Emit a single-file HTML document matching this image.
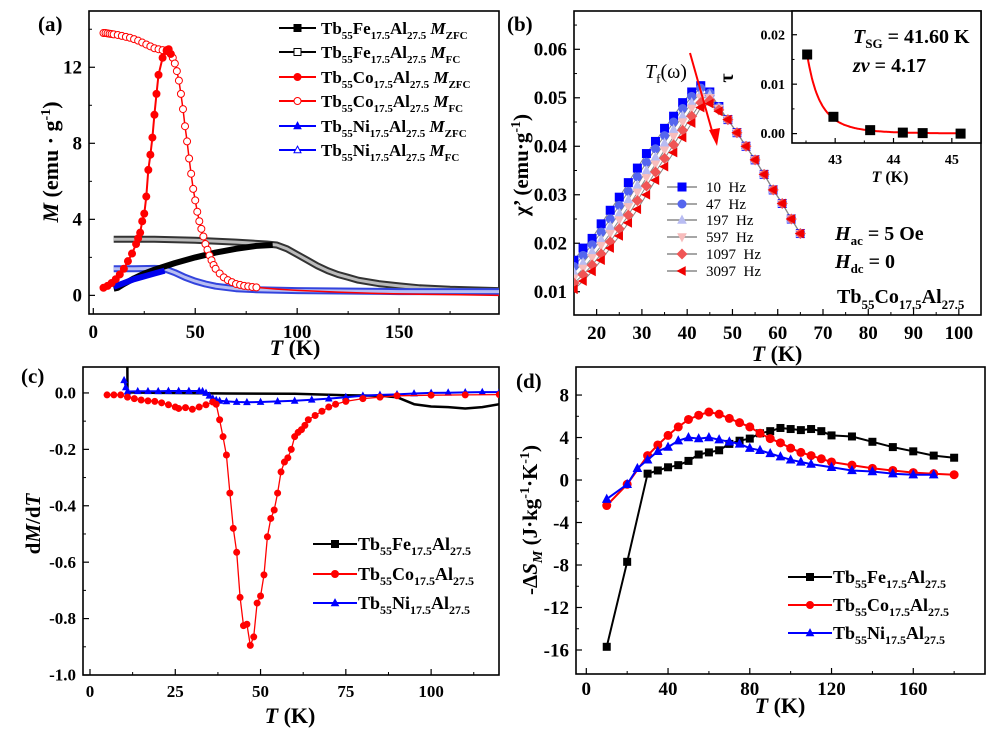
<!DOCTYPE html>
<html><head><meta charset="utf-8"><style>
html,body{margin:0;padding:0;background:#fff;}
svg{display:block;font-family:"Liberation Serif",serif;font-weight:bold;}
</style></head><body>
<svg id="fig" width="1000" height="737" viewBox="0 0 1000 737" xmlns="http://www.w3.org/2000/svg">
<rect width="1000" height="737" fill="#fff"/>
<defs>
<clipPath id="ca"><rect x="89" y="11" width="410" height="303"/></clipPath>
<clipPath id="cb"><rect x="574" y="11" width="407" height="304"/></clipPath>
<clipPath id="cbi"><rect x="792" y="11" width="189" height="132"/></clipPath>
<clipPath id="cc"><rect x="83" y="367" width="416" height="308"/></clipPath>
<clipPath id="cd"><rect x="576" y="367" width="409" height="307"/></clipPath>
</defs>
<g id="pa"></g>
<g id="pb"></g>
<g id="pc"></g>
<g id="pd"></g>
<g id="pbi"></g>

<!-- panel labels -->
<text x="38" y="31" font-size="21">(a)</text>
<text x="507" y="31" font-size="21">(b)</text>
<text x="21" y="383" font-size="21">(c)</text>
<text x="516" y="388" font-size="21">(d)</text>

<!-- axis titles -->
<text transform="translate(58,162) rotate(-90)" text-anchor="middle" font-size="22"><tspan font-style="italic">M</tspan> (emu · g<tspan dy="-8" font-size="14">-1</tspan><tspan dy="8">)</tspan></text>
<text x="295" y="355" text-anchor="middle" font-size="22"><tspan font-style="italic">T</tspan> (K)</text>
<text transform="translate(528,165) rotate(-90)" text-anchor="middle" font-size="21">χ’ (emu·g<tspan dy="-8" font-size="14">-1</tspan><tspan dy="8">)</tspan></text>
<text x="777" y="361" text-anchor="middle" font-size="22"><tspan font-style="italic">T</tspan> (K)</text>
<text transform="translate(40,524) rotate(-90)" text-anchor="middle" font-size="21">d<tspan font-style="italic">M</tspan>/d<tspan font-style="italic">T</tspan></text>
<text x="290" y="723" text-anchor="middle" font-size="22"><tspan font-style="italic">T</tspan> (K)</text>
<text transform="translate(537,520) rotate(-90)" text-anchor="middle" font-size="21">-Δ<tspan font-style="italic">S</tspan><tspan dy="5" font-size="14" font-style="italic">M</tspan><tspan dy="-5"> (J·kg</tspan><tspan dy="-8" font-size="14">-1</tspan><tspan dy="8">·K</tspan><tspan dy="-8" font-size="14">-1</tspan><tspan dy="8">)</tspan></text>
<text x="780" y="713" text-anchor="middle" font-size="22"><tspan font-style="italic">T</tspan> (K)</text>

<!-- panel b annotations -->
<text x="645" y="78" font-size="20" font-weight="normal"><tspan font-style="italic">T</tspan><tspan dy="5" font-size="13">f</tspan><tspan dy="-5">(ω)</tspan></text>
<text x="835" y="240" font-size="20"><tspan font-style="italic">H</tspan><tspan dy="5" font-size="13">ac</tspan><tspan dy="-5"> = 5 Oe</tspan></text>
<text x="835" y="268" font-size="20"><tspan font-style="italic">H</tspan><tspan dy="5" font-size="13">dc</tspan><tspan dy="-5"> = 0</tspan></text>
<text x="837" y="303" font-size="20">Tb<tspan dy="6" font-size="13">55</tspan><tspan dy="-6">Co</tspan><tspan dy="6" font-size="13">17.5</tspan><tspan dy="-6">Al</tspan><tspan dy="6" font-size="13">27.5</tspan></text>
<line x1="690" y1="53" x2="714" y2="138" stroke="#f00" stroke-width="2"/>
<polygon points="709,130 717,146 720,128" fill="#f00"/>

<!-- inset text -->
<text transform="translate(733,78) rotate(-90)" text-anchor="middle" font-size="20">τ</text>
<text x="890" y="182" text-anchor="middle" font-size="16"><tspan font-style="italic">T</tspan> (K)</text>
<text x="853" y="43" font-size="20"><tspan font-style="italic">T</tspan><tspan dy="5" font-size="13">SG</tspan><tspan dy="-5"> = 41.60 K</tspan></text>
<text x="853" y="72" font-size="20"><tspan font-style="italic">zν</tspan> = 4.17</text>

<script>
// ---------- data: panel (a) ----------
const aFeZfcT=[10,12,15,20,25,30,40,50,60,70,80,88];
const aFeZfcM=[0.35,0.4,0.6,0.9,1.15,1.35,1.7,2.0,2.25,2.45,2.6,2.65];
const aFeFcT=[10,30,50,70,85,90,95,100,105,110,115,120,125,130,140,150,160,175,199];
const aFeFcM=[2.95,2.95,2.9,2.8,2.7,2.65,2.45,2.15,1.85,1.55,1.3,1.1,0.95,0.8,0.62,0.5,0.4,0.32,0.25];
const aCoZfcT=[5,7,9,11,13,15,17,19,21,22,23,24,25,26,27,28,29,30,31,32,34,36,37,38];
const aCoZfcM=[0.4,0.5,0.65,0.85,1.1,1.4,1.8,2.2,2.7,3.0,3.3,3.9,4.3,5.2,6.6,7.4,8.3,9.5,10.6,11.6,12.5,12.9,12.95,12.7];
const aCoFcT=[5,6,7,8,9,10,12,14,16,18,20,22,24,26,28,30,32,34,36,38,39,40,41,42,43,44,45,46,47,48,49,50,51,52,53,54,55,56,57,58,59,60,62,64,66,68,70,72,74,76,78,80,90,100,120,140,160,180,199];
const aCoFcM=[13.8,13.8,13.78,13.76,13.75,13.73,13.7,13.65,13.6,13.55,13.48,13.4,13.3,13.2,13.1,13.0,12.95,12.9,12.85,12.7,12.5,12.2,11.8,11.3,10.6,9.8,8.9,8.1,7.2,6.4,5.6,5.0,4.4,3.9,3.5,3.1,2.7,2.4,2.1,1.85,1.6,1.4,1.15,0.95,0.8,0.7,0.6,0.55,0.5,0.47,0.44,0.42,0.33,0.26,0.17,0.1,0.06,0.03,0.0];
const aNiZfcT=[10,15,20,25,30,35];
const aNiZfcM=[0.45,0.65,0.85,1.0,1.15,1.3];
const aNiFcT=[10,20,30,35,40,45,50,55,60,70,80,100,150,199];
const aNiFcM=[1.4,1.4,1.42,1.4,1.2,0.95,0.75,0.6,0.48,0.35,0.3,0.25,0.2,0.2];

// ---------- data: panel (b) ----------
const bT=[15,17,19,21,23,25,27,29,31,33,35,37,39,41,43,45,47,49,51,53,55,57,59,61,63,65];
const bTail=[0.0455,0.0428,0.0400,0.0372,0.0342,0.0310,0.0282,0.0250,0.0220];
const b10=[0.0165,0.0190,0.0210,0.0240,0.0268,0.0295,0.0325,0.0355,0.0385,0.0410,0.0437,0.0462,0.0490,0.0512,0.0525,0.0512,0.0482].concat(bTail);
const b47=[0.0152,0.0175,0.0197,0.0223,0.0250,0.0278,0.0307,0.0337,0.0367,0.0395,0.0422,0.0450,0.0478,0.0503,0.0520,0.0510,0.0481].concat(bTail);
const b197=[0.0140,0.0160,0.0183,0.0208,0.0235,0.0262,0.0290,0.0320,0.0350,0.0378,0.0407,0.0435,0.0463,0.0490,0.0510,0.0506,0.0480].concat(bTail);
const b597=[0.0128,0.0148,0.0170,0.0195,0.0220,0.0248,0.0275,0.0305,0.0335,0.0363,0.0392,0.0420,0.0450,0.0478,0.0500,0.0500,0.0478].concat(bTail);
const b1097=[0.0118,0.0135,0.0155,0.0178,0.0203,0.0230,0.0258,0.0288,0.0318,0.0347,0.0375,0.0403,0.0433,0.0462,0.0490,0.0495,0.0475].concat(bTail);
const b3097=[0.0105,0.0122,0.0142,0.0165,0.0190,0.0215,0.0242,0.0270,0.0300,0.0330,0.0358,0.0387,0.0418,0.0448,0.0480,0.0488,0.0472].concat(bTail);
const bFreqLabels=['10  Hz','47  Hz','197  Hz','597  Hz','1097  Hz','3097  Hz'];
const inT=[42.52,42.97,43.6,44.16,44.5,45.15];
const inTau=[0.016,0.0034,0.0007,0.0002,0.0001,0.0];
const inTsg=41.60, inZv=4.17;

// ---------- data: panel (c) ----------
const cFeT=[10.8,11,20,40,60,75,85,90,95,100,105,110,115,120];
const cFeV=[0.5,0.002,0.0,-0.002,-0.003,-0.008,-0.01,-0.015,-0.04,-0.048,-0.05,-0.055,-0.05,-0.04];
const cCoT=[5,7,9,11,13,15,17,19,21,23,25,26,28,30,32,34,36,37,38,39,40,41,42,43,44,45,46,47,48,49,50,51,52,53,54,55,56,57,58,59,60,61,62,63,64,66,68,70,72,75,80,85,90,100,110,120];
const cCoV=[-0.007,-0.007,-0.007,-0.015,-0.02,-0.025,-0.028,-0.03,-0.035,-0.042,-0.05,-0.055,-0.052,-0.058,-0.05,-0.042,-0.032,-0.04,-0.095,-0.155,-0.22,-0.355,-0.48,-0.565,-0.725,-0.825,-0.82,-0.895,-0.865,-0.745,-0.72,-0.645,-0.51,-0.445,-0.415,-0.355,-0.28,-0.245,-0.23,-0.2,-0.155,-0.14,-0.13,-0.115,-0.095,-0.08,-0.065,-0.05,-0.04,-0.03,-0.02,-0.015,-0.01,-0.008,-0.007,-0.006];
const cNiT=[10,10.5,11,14,17,20,23,26,29,32,33,34,35,36,37,38,40,43,46,50,55,60,65,70,75,80,85,90,95,100,105,110,115,120];
const cNiV=[0.045,0.02,0.005,0.006,0.006,0.006,0.007,0.007,0.007,0.007,0.006,0.0,-0.01,-0.02,-0.025,-0.028,-0.03,-0.032,-0.033,-0.032,-0.03,-0.028,-0.024,-0.02,-0.015,-0.01,-0.007,-0.005,-0.002,0.0,0.001,0.002,0.003,0.003];

// ---------- data: panel (d) ----------
const dFeT=[10,20,30,35,40,45,50,55,60,65,70,75,80,85,90,95,100,105,110,115,120,130,140,150,160,170,180];
const dFeV=[-15.7,-7.7,0.6,0.9,1.2,1.4,1.8,2.4,2.6,2.8,3.4,3.7,3.9,4.4,4.6,4.9,4.8,4.7,4.8,4.6,4.2,4.1,3.6,3.1,2.7,2.3,2.1];
const dCoT=[10,20,30,35,40,45,50,55,60,65,70,75,80,85,90,95,100,105,110,115,120,130,140,150,160,170,180];
const dCoV=[-2.4,-0.4,2.3,3.3,4.2,5.0,5.7,6.1,6.4,6.2,5.8,5.4,5.0,4.4,3.9,3.5,3.0,2.6,2.3,2.0,1.7,1.4,1.1,0.9,0.7,0.6,0.5];
const dNiT=[10,20,25,30,35,40,45,50,55,60,65,70,75,80,85,90,95,100,105,110,120,130,140,150,160,170];
const dNiV=[-1.8,-0.4,1.1,1.9,2.7,3.1,3.7,4.0,3.9,4.0,3.8,3.6,3.4,3.0,2.8,2.5,2.2,1.9,1.7,1.5,1.2,0.9,0.8,0.6,0.5,0.5];

// ---------- helpers ----------
const NS='http://www.w3.org/2000/svg';
function el(tag,parent,name,inter){
  const e=document.createElementNS(NS,tag);
  
  
  parent.appendChild(e);return e;
}
function set(e,o){for(const k in o)e.setAttribute(k,o[k]);return e;}
function scale(d0,d1,r0,r1){return v=>r0+(v-d0)/(d1-d0)*(r1-r0);}
function span(t,txt,dy,fs,it){
  const s=document.createElementNS(NS,'tspan');
  if(dy)s.setAttribute('dy',dy);
  if(fs)s.setAttribute('font-size',fs);
  if(it)s.setAttribute('font-style','italic');
  s.textContent=txt;t.appendChild(s);
}

function axes(g,c,id){
  const sx=scale(c.xmin,c.xmax,c.x0,c.x1), sy=scale(c.ymin,c.ymax,c.y1,c.y0);
  const box=el('rect',g,id+'-plot-frame',false);
  set(box,{x:c.x0,y:c.y0,width:c.x1-c.x0,height:c.y1-c.y0,fill:'#fff',stroke:'#000','stroke-width':1.6});
  const ax=el('g',g,id+'-x-axis',false);
  c.xmaj.forEach(v=>{
    const t=el('line',ax,'x-tick',false);
    set(t,{x1:sx(v),x2:sx(v),y1:c.y1,y2:c.y1-c.tl,stroke:'#000','stroke-width':1.2});
    const l=el('text',ax,'x-tick-label',false);
    set(l,{x:sx(v),y:c.xly,'text-anchor':'middle','font-size':c.fs});
    l.textContent=c.xfmt?c.xfmt(v):v;
  });
  (c.xmin_||[]).forEach(v=>{
    const t=el('line',ax,'x-minor-tick',false);
    set(t,{x1:sx(v),x2:sx(v),y1:c.y1,y2:c.y1-c.tl/2,stroke:'#000','stroke-width':1});
  });
  const ay=el('g',g,id+'-y-axis',false);
  c.ymaj.forEach(v=>{
    const t=el('line',ay,'y-tick',false);
    set(t,{x1:c.x0,x2:c.x0+c.tl,y1:sy(v),y2:sy(v),stroke:'#000','stroke-width':1.2});
    const l=el('text',ay,'y-tick-label',false);
    set(l,{x:c.ylx,y:sy(v)+c.fs*0.33,'text-anchor':'end','font-size':c.fs});
    l.textContent=c.yfmt?c.yfmt(v):v;
  });
  (c.ymin_||[]).forEach(v=>{
    const t=el('line',ay,'y-minor-tick',false);
    set(t,{x1:c.x0,x2:c.x0+c.tl/2,y1:sy(v),y2:sy(v),stroke:'#000','stroke-width':1});
  });
  return [sx,sy];
}
function line(g,sx,sy,xs,ys,color,w,name,clip){
  const p=el('polyline',g,name,false);
  set(p,{points:xs.map((x,i)=>sx(x).toFixed(1)+','+sy(ys[i]).toFixed(1)).join(' '),fill:'none',stroke:color,'stroke-width':w,'stroke-linejoin':'round'});
  if(clip)p.setAttribute('clip-path','url(#'+clip+')');
  return p;
}
function marker(g,type,x,y,s,fill,stroke,name){
  let m;
  if(type==='circle'){m=el('circle',g,name,false);set(m,{cx:x,cy:y,r:s/2});}
  else if(type==='square'){m=el('rect',g,name,false);set(m,{x:x-s/2,y:y-s/2,width:s,height:s});}
  else{
    let pts;const h=s/2;
    if(type==='up')pts=[[x,y-h*1.1],[x+h,y+h*0.8],[x-h,y+h*0.8]];
    else if(type==='down')pts=[[x,y+h*1.1],[x+h,y-h*0.8],[x-h,y-h*0.8]];
    else if(type==='diamond')pts=[[x,y-h*1.2],[x+h*1.2,y],[x,y+h*1.2],[x-h*1.2,y]];
    else pts=[[x-h*1.1,y],[x+h*0.8,y-h],[x+h*0.8,y+h]];
    m=el('polygon',g,name,false);set(m,{points:pts.map(p=>p.join(',')).join(' ')});
  }
  set(m,{fill:fill,stroke:stroke,'stroke-width':1});
  return m;
}
function markers(g,sx,sy,xs,ys,type,s,fill,stroke,name,clip){
  const mg=el('g',g,name+'-markers',false);
  if(clip)mg.setAttribute('clip-path','url(#'+clip+')');
  xs.forEach((x,i)=>marker(mg,type,sx(x),sy(ys[i]),s,fill,stroke,name+'-point'));
}
function formula(parent,x,y,fs,el2,extra,name){
  const t=el('text',parent,name,false);
  set(t,{x:x,y:y,'font-size':fs});
  const sub=Math.round(fs*0.65),d=Math.round(fs*0.3);
  span(t,'Tb');span(t,'55',d,sub);span(t,el2,-d);span(t,'17.5',d,sub);span(t,'Al',-d);span(t,'27.5',d,sub);
  if(extra){span(t,' M',-d,null,true);span(t,extra,d,sub);}
  return t;
}
function legendRow(g,x1,x2,y,color,type,fill,tx,fs,el2,extra,name){
  const row=el('g',g,name,false);
  const l=el('line',row,name+'-line',false);
  set(l,{x1:x1,x2:x2,y1:y,y2:y,stroke:color,'stroke-width':2});
  marker(row,type,(x1+x2)/2,y,7,fill,color,name+'-marker');
  formula(row,tx,y+6,fs,el2,extra,name+'-label');
}

// ---------- panel (a) ----------
(function(){
  const g=document.getElementById('pa');
  const [sx,sy]=axes(g,{x0:89,x1:499,y0:11,y1:314,xmin:-2.1,xmax:199,ymin:-0.98,ymax:14.96,
    xmaj:[0,50,100,150],xmin_:[25,75,125,175],ymaj:[0,4,8,12],ymin_:[2,6,10,14],tl:6,fs:19,xly:338,ylx:82},'a');
  line(g,sx,sy,aFeFcT,aFeFcM,'#333',7,'fe-fc-band','ca');
  line(g,sx,sy,aFeFcT,aFeFcM,'#bbb',3,'fe-fc-inner','ca');
  line(g,sx,sy,aNiFcT,aNiFcM,'#3344dd',7,'ni-fc-band','ca');
  line(g,sx,sy,aNiFcT,aNiFcM,'#b8bef2',3,'ni-fc-inner','ca');
  line(g,sx,sy,aFeZfcT,aFeZfcM,'#000',6,'fe-zfc-line','ca');
  line(g,sx,sy,aNiZfcT,aNiZfcM,'#0000ee',6,'ni-zfc-line','ca');
  line(g,sx,sy,aCoFcT,aCoFcM,'#f00',1.5,'co-fc-line','ca');
  const mT=aCoFcT.filter(t=>t<=80), mM=aCoFcM.slice(0,mT.length);
  markers(g,sx,sy,mT,mM,'circle',7,'#fff','#f00','co-fc','ca');
  line(g,sx,sy,aCoZfcT,aCoZfcM,'#f00',2,'co-zfc-line','ca');
  markers(g,sx,sy,aCoZfcT,aCoZfcM,'circle',7,'#f00','#f00','co-zfc','ca');
  const lg=el('g',g,'legend-a',false);
  const rows=[['#000','square','#000','Fe','ZFC'],['#000','square','#fff','Fe','FC'],['#f00','circle','#f00','Co','ZFC'],['#f00','circle','#fff','Co','FC'],['#00f','up','#00f','Ni','ZFC'],['#00f','up','#fff','Ni','FC']];
  const ry=[28,52,77,101,126,150];
  rows.forEach((r,i)=>legendRow(lg,279,316,ry[i],r[0],r[1],r[2],321,17,r[3],r[4],'legend-entry-'+r[3].toLowerCase()+'-'+r[4].toLowerCase()));
})();

// ---------- panel (b) ----------
(function(){
  const g=document.getElementById('pb');
  const f2=v=>v.toFixed(2);
  const [sx,sy]=axes(g,{x0:574,x1:981,y0:11,y1:315,xmin:15,xmax:104.9,ymin:0.0052,ymax:0.0679,
    xmaj:[20,30,40,50,60,70,80,90,100],xmin_:[25,35,45,55,65,75,85,95],ymaj:[0.01,0.02,0.03,0.04,0.05,0.06],ymin_:[0.015,0.025,0.035,0.045,0.055,0.065],tl:6,fs:19,xly:339,ylx:567,yfmt:f2},'b');
  const series=[[b10,'square','#0000ff'],[b47,'circle','#5566ee'],[b197,'up','#b8bcf2'],[b597,'down','#f7bcbc'],[b1097,'diamond','#f05555'],[b3097,'left','#f00000']];
  series.forEach((s,i)=>{
    line(g,sx,sy,bT,s[0],'#888',1,'chi-line-'+i,'cb');
  });
  series.forEach((s,i)=>{
    markers(g,sx,sy,bT,s[0],s[1],8,s[2],s[2],'chi-'+bFreqLabels[i].replace(/\s+/g,'').toLowerCase(),'cb');
  });
  const lg=el('g',g,'legend-b',false);
  const ry=[187,204,220,237,254,271];
  series.forEach((s,i)=>{
    const row=el('g',lg,'legend-entry-'+bFreqLabels[i].replace(/\s+/g,'').toLowerCase(),false);
    const l=el('line',row,'legend-line',false);
    set(l,{x1:667,x2:697,y1:ry[i],y2:ry[i],stroke:'#888','stroke-width':1.5});
    marker(row,s[1],682,ry[i],8,s[2],s[2],'legend-marker');
    const t=el('text',row,'legend-label',false);
    set(t,{x:706,y:ry[i]+5,'font-size':15,'font-weight':'normal'});
    t.textContent=bFreqLabels[i].replace('  ','\u00a0\u00a0');
  });
  // inset
  const gi=document.getElementById('pbi');
  const [ix,iy]=axes(gi,{x0:792,x1:981,y0:11,y1:143,xmin:42.26,xmax:45.5,ymin:-0.0019,ymax:0.0248,
    xmaj:[43,44,45],xmin_:[42.5,43.5,44.5],ymaj:[0,0.01,0.02],ymin_:[0.005,0.015],tl:5,fs:14,xly:164,ylx:785,yfmt:f2},'inset');
  const fitT=[];for(let t=42.52;t<=45.2;t+=0.02)fitT.push(t);
  const tau0=inTau[0]/Math.pow((inT[0]-inTsg)/inTsg,-inZv);
  const fitV=fitT.map(t=>tau0*Math.pow((t-inTsg)/inTsg,-inZv));
  line(gi,ix,iy,fitT,fitV,'#f00',2,'fit-curve','cbi');
  markers(gi,ix,iy,inT,inTau,'square',9,'#000','#000','tau','cbi');
})();

// ---------- panel (c) ----------
(function(){
  const g=document.getElementById('pc');
  const f1=v=>v.toFixed(1);
  const [sx,sy]=axes(g,{x0:83,x1:499,y0:367,y1:675,xmin:-2.05,xmax:119.9,ymin:-1.0,ymax:0.092,
    xmaj:[0,25,50,75,100],xmin_:[12.5,37.5,62.5,87.5,112.5],ymaj:[0,-0.2,-0.4,-0.6,-0.8,-1.0],ymin_:[-0.1,-0.3,-0.5,-0.7,-0.9],tl:6,fs:17,xly:697,ylx:76,yfmt:f1},'c');
  line(g,sx,sy,cFeT,cFeV,'#000',2.5,'fe-dmdt-line','cc');
  line(g,sx,sy,cNiT,cNiV,'#00f',2,'ni-dmdt-line','cc');
  markers(g,sx,sy,cNiT,cNiV,'up',6,'#00f','#00f','ni-dmdt','cc');
  line(g,sx,sy,cCoT,cCoV,'#f00',1.3,'co-dmdt-line','cc');
  markers(g,sx,sy,cCoT,cCoV,'circle',6,'#f00','#f00','co-dmdt','cc');
  const lg=el('g',g,'legend-c',false);
  legendRow(lg,313,357,544,'#000','square','#000',358,18,'Fe',null,'legend-entry-fe');
  legendRow(lg,313,357,574,'#f00','circle','#f00',358,18,'Co',null,'legend-entry-co');
  legendRow(lg,313,357,603,'#00f','up','#00f',358,18,'Ni',null,'legend-entry-ni');
})();

// ---------- panel (d) ----------
(function(){
  const g=document.getElementById('pd');
  const [sx,sy]=axes(g,{x0:576,x1:985,y0:367,y1:674,xmin:-5.04,xmax:195.1,ymin:-18.26,ymax:10.64,
    xmaj:[0,40,80,120,160],xmin_:[20,60,100,140,180],ymaj:[8,4,0,-4,-8,-12,-16],ymin_:[6,2,-2,-6,-10,-14],tl:6,fs:19,xly:695,ylx:569},'d');
  line(g,sx,sy,dFeT,dFeV,'#000',2,'fe-ds-line','cd');
  markers(g,sx,sy,dFeT,dFeV,'square',7,'#000','#000','fe-ds','cd');
  line(g,sx,sy,dCoT,dCoV,'#f00',2,'co-ds-line','cd');
  markers(g,sx,sy,dCoT,dCoV,'circle',8,'#f00','#f00','co-ds','cd');
  line(g,sx,sy,dNiT,dNiV,'#00f',2,'ni-ds-line','cd');
  markers(g,sx,sy,dNiT,dNiV,'up',8,'#00f','#00f','ni-ds','cd');
  const lg=el('g',g,'legend-d',false);
  legendRow(lg,788,832,577,'#000','square','#000',833,18,'Fe',null,'legend-entry-fe');
  legendRow(lg,788,832,605,'#f00','circle','#f00',833,18,'Co',null,'legend-entry-co');
  legendRow(lg,788,832,633,'#00f','up','#00f',833,18,'Ni',null,'legend-entry-ni');
})();
</script>
</svg>
</body></html>
